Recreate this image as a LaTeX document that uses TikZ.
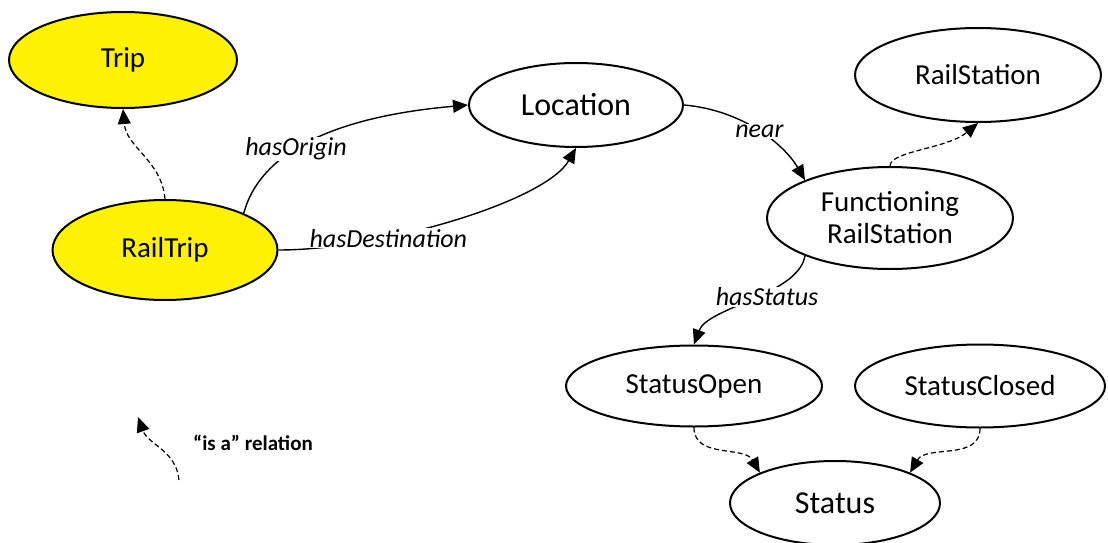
\documentclass[tikz,border=0pt]{standalone}
\usepackage{fontspec}
\setmainfont{Carlito}
\usetikzlibrary{shapes.geometric,arrows.meta}

\begin{document}
\begin{tikzpicture}[x=1pt,y=1pt,
        class/.style={draw=black, line width=2pt, ellipse, inner sep=0pt, align=center, font=\fontsize{29}{32}\selectfont},
        main/.style={class, fill=yellow},
        prop/.style={draw=black, line width=1.4pt, -{Triangle[length=15pt,width=13pt]}},
        isa/.style={prop, line width=1.2pt, dash pattern=on 5pt off 3pt},
        lbl/.style={fill=white, inner sep=1pt, font=\fontsize{26}{30}\selectfont\itshape}]
        \useasboundingbox (0,0) rectangle (1108,-543);
        % classes
        \node[main, minimum width=228pt, minimum height=96pt] (trip) at (123,-60) {Trip};
        \node[main, minimum width=225pt, minimum height=100pt] (railtrip) at (165,-250) {RailTrip};
        \node[class, minimum width=214pt, minimum height=84pt, font=\fontsize{32}{36}\selectfont] (location) at (576,-105) {Location};
        \node[class, minimum width=246pt, minimum height=94pt] (railstation) at (978,-75) {RailStation};
        \node[class, minimum width=246pt, minimum height=102pt] (functioning) at (890,-218) {Functioning\\RailStation};
        \node[class, minimum width=256pt, minimum height=81pt] (statusopen) at (694,-386) {StatusOpen};
        \node[class, minimum width=250pt, minimum height=83pt] (statusclosed) at (980,-386) {StatusClosed};
        \node[class, minimum width=210pt, minimum height=84pt, font=\fontsize{32}{36}\selectfont] (status) at (835,-503) {Status};
        % relations
        \path
        (railtrip.north) edge[isa, out=95, in=-85] (trip.south)
        (railtrip.25) edge[prop, out=75, in=185, out distance=70pt, in distance=120pt] node[lbl, pos=.4] {hasOrigin} (location.west)
        (railtrip.east) edge[prop, out=0, in=240, out distance=103pt, in distance=62pt] node[lbl, pos=.3, xshift=6pt] {hasDestination} (location.south)
        (location.east) edge[prop, out=-5, in=120, out distance=60pt, in distance=40pt] node[lbl] {near} (functioning.156)
        (functioning.north) edge[isa, out=90, in=220, out distance=15pt, in distance=40pt] (railstation.south)
        (functioning.204) edge[prop, out=-100, in=70, out distance=40pt, in distance=40pt] node[lbl, xshift=15pt, yshift=4pt] {hasStatus} (statusopen.north)
        (statusopen.south) edge[isa, out=-90, in=120] (status.158)
        (statusclosed.south) edge[isa, out=-90, in=60] (status.22);
        % legend
        \coordinate (legendstart) at (179,-480);
        \coordinate (legendend) at (138,-417);
        \draw[isa] (legendstart) to[out=95, in=-70] (legendend);
        \node[font=\fontsize{21}{24}\selectfont\bfseries] (legendtext) at (253,-443) {“is a” relation};
\end{tikzpicture}
\end{document}
